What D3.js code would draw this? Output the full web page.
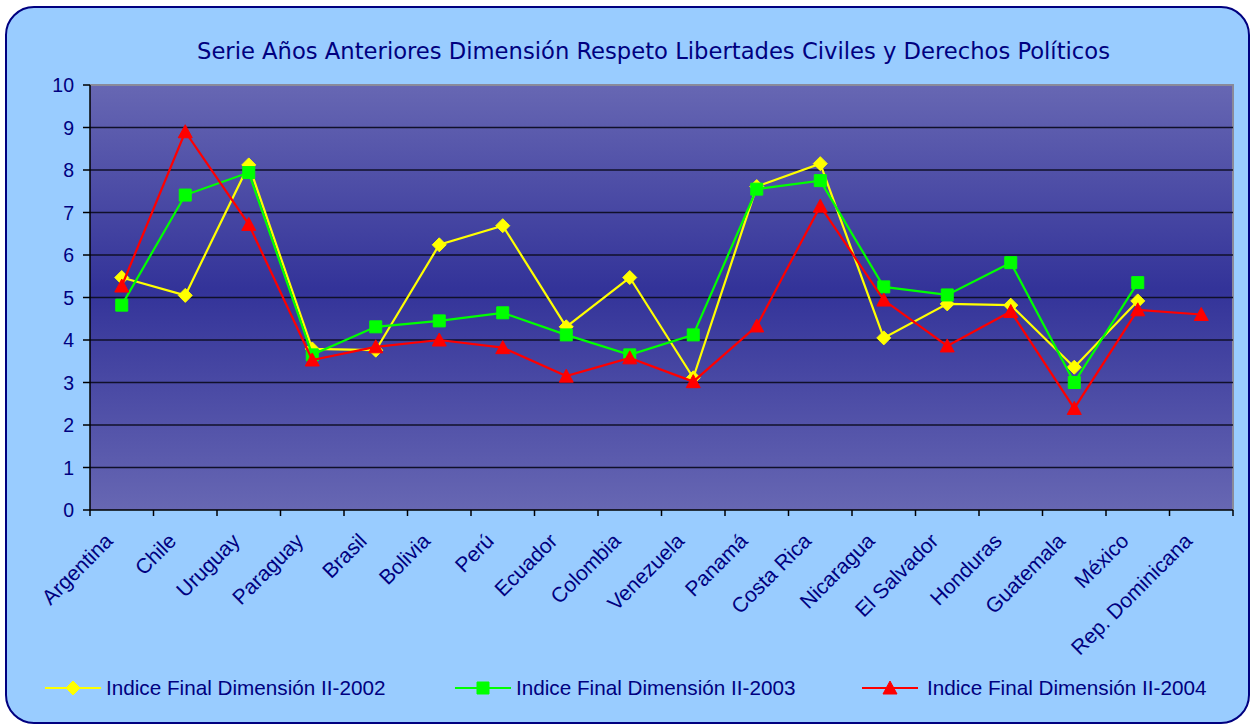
<!DOCTYPE html>
<html>
<head>
<meta charset="utf-8">
<script src="https://cdn.jsdelivr.net/npm/d3@7"></script>
<style>
  html, body { margin: 0; padding: 0; background: #ffffff; }
  svg { display: block; }
</style>
</head>
<body>
<svg id="chart" width="1251" height="726"></svg>
<script>
const categories = ["Argentina", "Chile", "Uruguay", "Paraguay", "Brasil", "Bolivia", "Perú", "Ecuador", "Colombia", "Venezuela", "Panamá", "Costa Rica", "Nicaragua", "El Salvador", "Honduras", "Guatemala", "México", "Rep. Dominicana"];
const values2002 = [5.47, 5.05, 8.12, 3.79, 3.76, 6.24, 6.69, 4.31, 5.47, 3.11, 7.61, 8.15, 4.05, 4.85, 4.82, 3.36, 4.92, null];
const values2003 = [4.82, 7.41, 7.94, 3.65, 4.31, 4.45, 4.64, 4.12, 3.65, 4.12, 7.55, 7.75, 5.25, 5.06, 5.82, 3.00, 5.35, null];
const values2004 = [5.27, 8.90, 6.72, 3.53, 3.84, 4.00, 3.82, 3.15, 3.58, 3.02, 4.33, 7.15, 4.94, 3.86, 4.67, 2.39, 4.71, 4.60];
const seriesNames = ["Indice Final Dimensión II-2002", "Indice Final Dimensión II-2003", "Indice Final Dimensión II-2004"];
const yTicks = [0, 1, 2, 3, 4, 5, 6, 7, 8, 9, 10];
const titleText = "Serie Años Anteriores Dimensión Respeto Libertades Civiles y Derechos Políticos";

const series = [
  { name: seriesNames[0], values: values2002, color: "#FFFF00", marker: "diamond" },
  { name: seriesNames[1], values: values2003, color: "#00FF00", marker: "square" },
  { name: seriesNames[2], values: values2004, color: "#FF0000", marker: "triangle" }
];

const navy = "#000080";
const svg = d3.select("#chart");

// outer rounded box
svg.append("rect")
  .attr("x", 6).attr("y", 7).attr("width", 1243).attr("height", 716)
  .attr("rx", 28).attr("ry", 28)
  .attr("fill", "#99CCFF").attr("stroke", navy).attr("stroke-width", 2);

const plot = { left: 90, right: 1233, top: 85, bottom: 510 };

const x = d3.scaleBand().domain(categories).range([plot.left, plot.right]).padding(0);
const y = d3.scaleLinear().domain([0, 10]).range([plot.bottom, plot.top]);

// gradient
const defs = svg.append("defs");
const grad = defs.append("linearGradient").attr("id", "bg").attr("x1", 0).attr("y1", 0).attr("x2", 0).attr("y2", 1);
grad.append("stop").attr("offset", "0%").attr("stop-color", "#6767B3");
grad.append("stop").attr("offset", "48%").attr("stop-color", "#333399");
grad.append("stop").attr("offset", "100%").attr("stop-color", "#6767B3");

svg.append("rect")
  .attr("x", plot.left).attr("y", plot.top)
  .attr("width", plot.right - plot.left).attr("height", plot.bottom - plot.top)
  .attr("fill", "url(#bg)");

// plot border top/right (gray)
svg.append("path")
  .attr("d", `M${plot.left},${plot.top}H${plot.right}V${plot.bottom}`)
  .attr("fill", "none").attr("stroke", "#8a8a9a").attr("stroke-width", 2);

// gridlines
svg.append("g").selectAll("line")
  .data(yTicks.filter(t => t > 0 && t < 10))
  .join("line")
  .attr("x1", plot.left).attr("x2", plot.right)
  .attr("y1", d => y(d)).attr("y2", d => y(d))
  .attr("stroke", "#10102a").attr("stroke-width", 1.6);

// y axis
const yAxis = svg.append("g");
yAxis.append("line")
  .attr("x1", plot.left).attr("x2", plot.left)
  .attr("y1", plot.top).attr("y2", plot.bottom)
  .attr("stroke", "#000").attr("stroke-width", 1.5);
yAxis.selectAll("line.tick").data(yTicks).join("line").attr("class", "tick")
  .attr("x1", plot.left - 7).attr("x2", plot.left)
  .attr("y1", d => y(d)).attr("y2", d => y(d))
  .attr("stroke", "#000").attr("stroke-width", 1.5);
yAxis.selectAll("text").data(yTicks).join("text")
  .attr("x", 74).attr("y", d => y(d))
  .attr("dy", "0.36em")
  .attr("text-anchor", "end")
  .attr("font-family", "Liberation Sans, Arial, sans-serif")
  .attr("font-size", 19.5)
  .attr("fill", navy)
  .text(d => d);

// x axis
const xAxis = svg.append("g");
xAxis.append("line")
  .attr("x1", plot.left).attr("x2", plot.right)
  .attr("y1", plot.bottom).attr("y2", plot.bottom)
  .attr("stroke", "#000").attr("stroke-width", 1.5);
const boundaries = categories.map(c => x(c)).concat([x(categories[categories.length - 1]) + x.bandwidth()]);
xAxis.selectAll("line.tick").data(boundaries).join("line").attr("class", "tick")
  .attr("x1", d => d).attr("x2", d => d)
  .attr("y1", plot.bottom).attr("y2", plot.bottom + 6)
  .attr("stroke", "#000").attr("stroke-width", 1.5);
xAxis.selectAll("text").data(categories).join("text")
  .attr("transform", d => `translate(${x(d) + x.bandwidth() / 2 - 13},${plot.bottom + 27}) rotate(-45)`)
  .attr("dy", "0.36em")
  .attr("text-anchor", "end")
  .attr("font-family", "Liberation Sans, Arial, sans-serif")
  .attr("font-size", 21)
  .attr("fill", navy)
  .text(d => d);

// markers
function markerPath(type) {
  if (type === "diamond") return "M0,-7L7,0L0,7L-7,0Z";
  if (type === "square") return "M-6,-6H6V6H-6Z";
  return "M0,-7L7,6L-7,6Z";
}

const cx = c => x(c) + x.bandwidth() / 2;

series.forEach(s => {
  const pts = categories.map((c, i) => ({ c, v: s.values[i] })).filter(p => p.v !== null);
  const line = d3.line().x(p => cx(p.c)).y(p => y(p.v));
  const g = svg.append("g");
  g.append("path").attr("d", line(pts))
    .attr("fill", "none").attr("stroke", s.color).attr("stroke-width", 2.2)
    .attr("stroke-linejoin", "miter");
  g.selectAll("path.m").data(pts).join("path").attr("class", "m")
    .attr("d", markerPath(s.marker))
    .attr("transform", p => `translate(${cx(p.c)},${y(p.v)})`)
    .attr("fill", s.color).attr("stroke", s.color).attr("stroke-width", 1);
});

// title
svg.append("text")
  .attr("x", 653.5).attr("y", 59)
  .attr("text-anchor", "middle")
  .attr("font-family", "DejaVu Sans Condensed, DejaVu Sans, sans-serif")
  .attr("font-stretch", "condensed")
  .attr("font-weight", 400)
  .attr("font-size", 23)
  .attr("textLength", 913)
  .attr("lengthAdjust", "spacingAndGlyphs")
  .attr("fill", navy)
  .text(titleText);

// legend
const legendPos = [{ x: 45, tx: 106 }, { x: 455, tx: 516 }, { x: 862, tx: 927 }];
const ly = 688;
series.forEach((s, i) => {
  const g = svg.append("g");
  const p = legendPos[i];
  g.append("line").attr("x1", p.x).attr("x2", p.x + 56).attr("y1", ly).attr("y2", ly)
    .attr("stroke", s.color).attr("stroke-width", 2.2);
  g.append("path").attr("d", markerPath(s.marker))
    .attr("transform", `translate(${p.x + 28},${ly})`)
    .attr("fill", s.color).attr("stroke", s.color);
  g.append("text").attr("x", p.tx).attr("y", ly).attr("dy", "0.36em")
    .attr("font-family", "Liberation Sans, Arial, sans-serif")
    .attr("font-size", 20.7)
    .attr("fill", navy)
    .text(s.name);
});
</script>
</body>
</html>
